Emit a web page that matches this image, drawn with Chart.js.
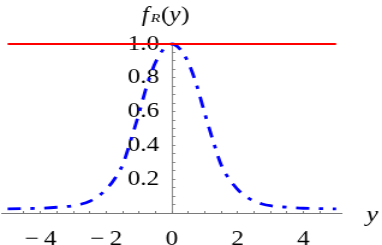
<!DOCTYPE html>
<html>
<head>
<meta charset="utf-8">
<script src="https://cdn.jsdelivr.net/npm/chart.js@4/dist/chart.umd.min.js"></script>
<style>
  html, body { margin: 0; padding: 0; background: #fff; overflow: hidden; }
  /* the reference is horizontally stretched ~1.2x; draw at 318px wide and stretch to 382px */
  #wrap { width: 318px; height: 245px; position: relative; transform: scaleX(1.2013); transform-origin: 0 0; }
</style>
</head>
<body>
<div id="wrap"><canvas id="c"></canvas></div>
<script>
// ---- data ----
const xValues = [-5, -4.5, -4, -3.5, -3, -2.75, -2.5, -2.25, -2, -1.75, -1.5, -1.25, -1, -0.75, -0.5, -0.25,
                 0, 0.25, 0.5, 0.75, 1, 1.25, 1.5, 1.75, 2, 2.25, 2.5, 2.75, 3, 3.5, 4, 4.5, 5];
const fValues = [0.024, 0.026, 0.028, 0.034, 0.043, 0.053, 0.07, 0.098, 0.14, 0.2, 0.285, 0.43, 0.59, 0.76, 0.89, 0.97,
                 1.0, 0.97, 0.89, 0.76, 0.59, 0.43, 0.285, 0.2, 0.14, 0.098, 0.07, 0.053, 0.043, 0.034, 0.028, 0.026, 0.024];
const flatX = [-5, 5];
const flatY = [1, 1];
const xTickLabels = [-4, -2, 0, 2, 4];
const yTickLabels = [0.2, 0.4, 0.6, 0.8, 1.0];
const titleParts = ['f', 'R', '(y)'];
const xAxisName = 'y';

const SERIF = '"Liberation Serif", "Times New Roman", "DejaVu Serif", serif';
const AXIS_GRAY = '#7a7a7a';

const near = (a, b) => Math.abs(a - b) < 1e-6;

const labelsPlugin = {
  id: 'labelsPlugin',
  afterDraw(chart) {
    const ctx = chart.ctx;
    ctx.save();
    ctx.fillStyle = '#000';
    ctx.textBaseline = 'alphabetic';
    ctx.textAlign = 'left';
    // title f_R(y)
    ctx.font = 'italic 21px ' + SERIF;
    ctx.fillText(titleParts[0], 118, 21);
    ctx.font = 'italic 13px ' + SERIF;
    ctx.fillText(titleParts[1], 125.5, 22);
    ctx.font = '21px ' + SERIF;
    let x = 134;
    ctx.fillText('(', x, 21);
    x += ctx.measureText('(').width;
    ctx.font = 'italic 21px ' + SERIF;
    ctx.fillText('y', x, 21);
    x += ctx.measureText('y').width + 0.5;
    ctx.font = '21px ' + SERIF;
    ctx.fillText(')', x, 21);
    // axis name
    ctx.font = 'italic 22px ' + SERIF;
    ctx.fillText(xAxisName, 305, 221);
    ctx.restore();
  }
};

new Chart(document.getElementById('c'), {
  type: 'line',
  data: {
    datasets: [
      {
        data: flatX.map((x, i) => ({ x, y: flatY[i] })),
        borderColor: '#ff0000',
        borderWidth: 2,
        pointRadius: 0,
        clip: false
      },
      {
        data: xValues.map((x, i) => ({ x, y: fValues[i] })),
        borderColor: '#0000ff',
        borderWidth: 2.8,
        borderDash: [11, 8, 3.5, 8],
        pointRadius: 0,
        cubicInterpolationMode: 'monotone',
        clip: false
      }
    ]
  },
  options: {
    responsive: true,
    maintainAspectRatio: false,
    animation: false,
    events: [],
    layout: { padding: { left: 0, right: 33.3, top: 44, bottom: 32 } },
    plugins: { legend: { display: false }, tooltip: { enabled: false }, title: { display: false } },
    scales: {
      x: {
        type: 'linear',
        position: { y: 0 },
        min: -5.18,
        max: 5.18,
        afterFit: s => { s.height = 0; },
        afterBuildTicks: s => { s.ticks = s.ticks.filter(t => near(t.value * 2, Math.round(t.value * 2))); },
        ticks: {
          stepSize: 0.5,
          autoSkip: false,
          maxRotation: 0,
          padding: 17,
          color: '#000',
          font: { family: SERIF, size: 21 },
          callback: v => {
            const m = xTickLabels.find(t => near(t, v));
            if (m === undefined) return '';
            return m < 0 ? '\u2212\u2009' + Math.abs(m) : String(m);
          }
        },
        grid: { display: true, drawOnChartArea: false, drawTicks: true, tickLength: -3, color: AXIS_GRAY, lineWidth: 1 },
        border: { display: true, color: AXIS_GRAY, width: 1 }
      },
      y: {
        type: 'linear',
        position: { x: 0 },
        min: 0,
        max: 1.0,
        afterFit: s => { s.width = 0; },
        ticks: {
          stepSize: 0.05,
          autoSkip: false,
          padding: 0,
          color: '#000',
          font: { family: SERIF, size: 21 },
          callback: v => {
            const m = yTickLabels.find(t => near(t, v));
            return m === undefined ? '' : m.toFixed(1) + '\u2002';
          }
        },
        grid: { display: true, drawOnChartArea: false, drawTicks: true, tickLength: -3, color: AXIS_GRAY, lineWidth: 0.85 },
        border: { display: true, color: AXIS_GRAY, width: 0.85 }
      }
    }
  },
  plugins: [labelsPlugin]
});
</script>
</body>
</html>
